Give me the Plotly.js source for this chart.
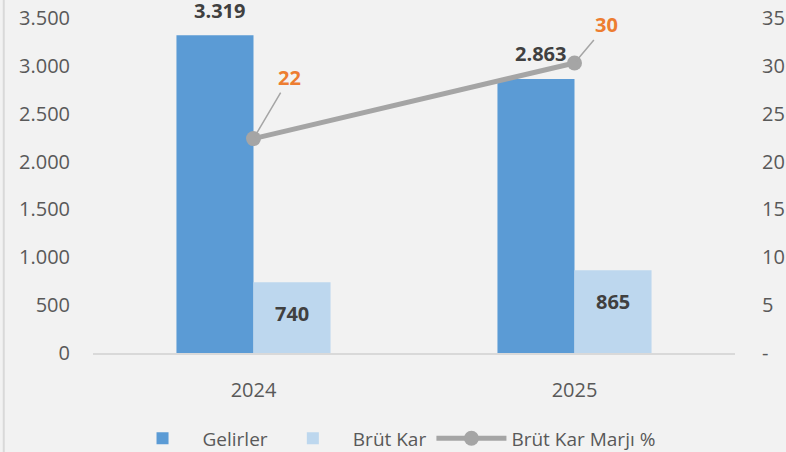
<!DOCTYPE html>
<html>
<head>
<meta charset="utf-8">
<script src="https://cdn.plot.ly/plotly-3.0.1.min.js"></script>
<style>html,body{margin:0;padding:0;background:#f2f2f2;}#chart{width:786px;height:452px;}</style>
</head>
<body>
<div id="chart"></div>
<script>
const years = ['2024', '2025'];
const gelirler = [3319, 2863];
const brutKar = [740, 865];
const marj = [22.4, 30.3];
const gelirlerLabels = ['3.319', '2.863'];
const brutKarLabels = ['740', '865'];
const marjLabels = ['22', '30'];
const y2TickVals = [0, 5, 10, 15, 20, 25, 30, 35];
const y2TickText = ['-', '5', '10', '15', '20', '25', '30', '35'];

const FONT = 'Open Sans, Noto Sans, sans-serif';
const traces = [
  {type: 'bar', name: 'Gelirler', x: years, y: gelirler, marker: {color: '#5b9bd5'}, hoverinfo: 'none'},
  {type: 'bar', name: 'Brüt Kar', x: years, y: brutKar, marker: {color: '#bdd7ee'}, hoverinfo: 'none'},
  {type: 'scatter', mode: 'lines+markers', name: 'Brüt Kar Marjı %', x: years, y: marj, yaxis: 'y2',
   line: {color: '#a5a5a5', width: 5}, marker: {color: '#a5a5a5', size: 15}, hoverinfo: 'none'}
];

const annotations = [];
years.forEach((yr, i) => {
  annotations.push({xref: 'x', yref: 'y', x: i, y: gelirler[i], text: gelirlerLabels[i], showarrow: false,
    xshift: -34, yshift: 25, font: {family: FONT, size: 20, color: '#404040', weight: 'bold'}});
  annotations.push({xref: 'x', yref: 'y', x: i, y: brutKar[i], text: brutKarLabels[i], showarrow: false,
    xshift: 38, yshift: -31, font: {family: FONT, size: 20, color: '#404040', weight: 'bold'}});
});
const marjOffsets = [[36, -61], [32, -38]];
years.forEach((yr, i) => {
  annotations.push({xref: 'x', yref: 'y2', x: i, y: marj[i], text: marjLabels[i], showarrow: true,
    arrowhead: 0, arrowwidth: 1.5, arrowcolor: '#a5a5a5', ax: marjOffsets[i][0], ay: marjOffsets[i][1], standoff: 2,
    font: {family: FONT, size: 20, color: '#ed7d31', weight: 'bold'}});
});

const layout = {
  width: 786, height: 452,
  paper_bgcolor: '#f2f2f2', plot_bgcolor: '#f2f2f2',
  margin: {l: 93, r: 51, t: 18, b: 99, autoexpand: false},
  separators: ',.',
  font: {family: FONT, size: 20, color: '#595959'},
  barmode: 'group', bargap: 0.52, bargroupgap: 0,
  showlegend: true,
  legend: {orientation: 'h', x: 0.465, xanchor: 'center', y: -0.255, yanchor: 'middle',
    font: {family: FONT, size: 19, color: '#595959'}, itemwidth: 70, bgcolor: 'rgba(0,0,0,0)'},
  xaxis: {type: 'category', range: [-0.5, 1.5], showline: true, linecolor: '#d9d9d9', linewidth: 2, showgrid: false,
    ticks: '', ticklabelstandoff: 18, tickfont: {family: FONT, size: 20, color: '#595959'}},
  yaxis: {range: [0, 3500], dtick: 500, tickformat: ',d', showgrid: false, zeroline: false, showline: false,
    ticks: '', ticklabelstandoff: 22, tickfont: {family: FONT, size: 20, color: '#595959'}},
  yaxis2: {overlaying: 'y', side: 'right', anchor: 'x', range: [0, 35], tickvals: y2TickVals, ticktext: y2TickText,
    showgrid: false, zeroline: false, showline: false, ticks: '', ticklabelstandoff: 26,
    tickfont: {family: FONT, size: 20, color: '#595959'}},
  annotations: annotations,
  shapes: [{type: 'line', xref: 'paper', yref: 'paper', x0: -0.139, x1: -0.139, y0: -0.35, y1: 1.1,
    line: {color: '#d9d9d9', width: 2}}]
};

Plotly.newPlot('chart', traces, layout, {displayModeBar: false, staticPlot: true});
</script>
</body>
</html>
